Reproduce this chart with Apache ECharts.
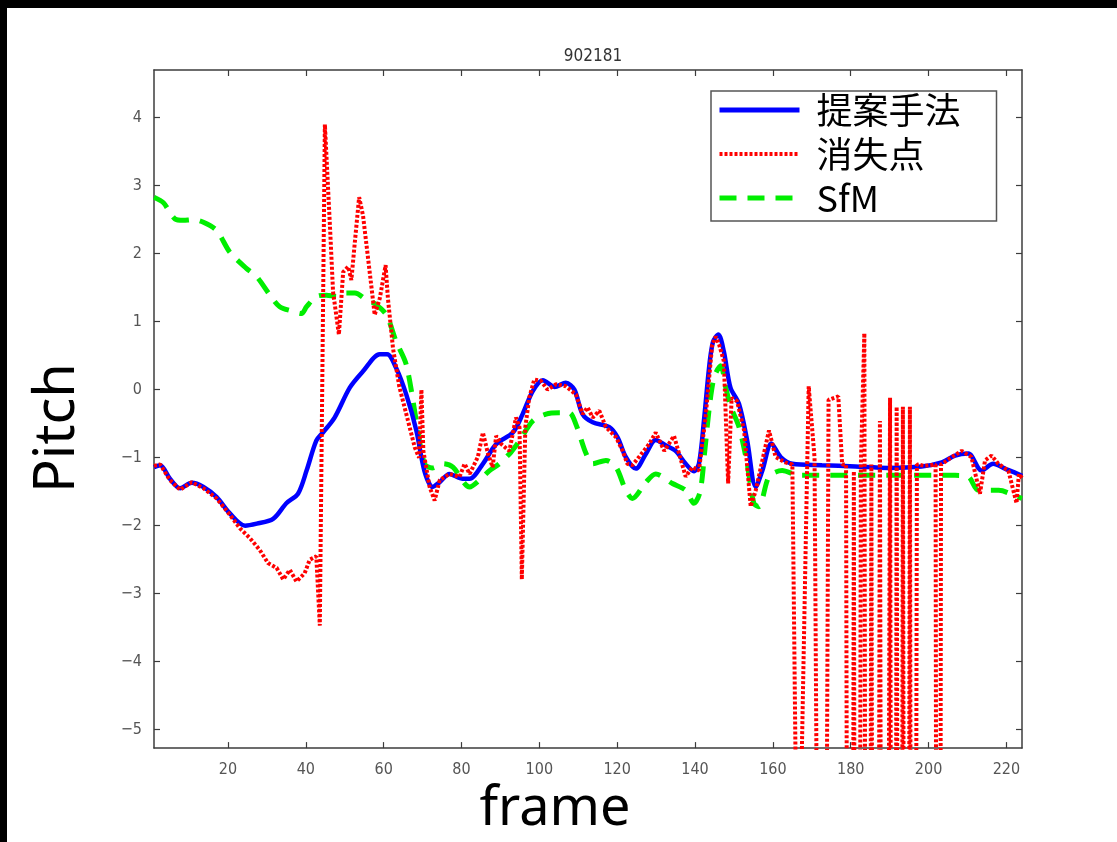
<!DOCTYPE html>
<html>
<head>
<meta charset="utf-8">
<title>902181</title>
<script src="https://cdn.jsdelivr.net/npm/echarts@6/dist/echarts.min.js"></script>
<style>
    html,body{margin:0;padding:0;background:#000;}
    #chart{position:absolute;left:7px;top:8px;width:1110px;height:834px;background:#fff;}
</style>
</head>
<body>
<div id="chart"></div>
<script>
// 読み取った値 (frame, pitch)
const proposedPts=[
    [1,-1.14],[2.6,-1.11],[5.1,-1.31],[7.7,-1.45],[10.7,-1.37],[13.7,-1.43],[17.1,-1.58],[20.5,-1.82],
    [24.4,-2.0],[27.4,-1.97],[31.6,-1.9],[35,-1.67],[38,-1.53],[40.2,-1.19],[42.7,-0.75],[44.4,-0.63],
    [47.4,-0.41],[51.3,0.03],[54.7,0.27],[59,0.52],[60.9,0.52],[63.2,0.32],[65.8,-0.07],[68.4,-0.6],
    [70.5,-1.2],[72.6,-1.43],[74.4,-1.36],[76.9,-1.24],[80.3,-1.31],[82.1,-1.31],[85.5,-1.09],[88.9,-0.8],
    [93.2,-0.63],[95.7,-0.36],[98.3,-0.02],[100.9,0.14],[103.9,0.04],[106.8,0.1],[109,0.0],[111.1,-0.36],
    [113.7,-0.48],[118,-0.55],[120.1,-0.7],[122.2,-0.99],[124.8,-1.16],[127.4,-0.94],[129.9,-0.74],
    [132.5,-0.82],[135,-0.9],[137.6,-1.09],[139.7,-1.2],[141,-1.09],[142.3,-0.45],[143.6,0.32],[144.6,0.7],
    [146,0.81],[147.4,0.56],[149.1,0.03],[151.3,-0.21],[153.4,-0.75],[155.6,-1.43],[157.3,-1.19],
    [159.6,-0.79],[162,-0.99],[165,-1.09],[172.6,-1.11],[181.2,-1.13],[189.7,-1.15],[198.2,-1.13],
    [203.4,-1.07],[206.8,-0.97],[210.2,-0.94],[213.6,-1.19],[216.6,-1.09],[219.6,-1.16],[223,-1.24],[224,-1.27]
];
const vanishPts=[
    [1,-1.12],[2.6,-1.1],[5.1,-1.33],[7.7,-1.47],[10.7,-1.36],[13.7,-1.45],[17.1,-1.6],[20.5,-1.84],
    [23.1,-2.04],[25.6,-2.18],[28.2,-2.36],[30.3,-2.55],[32.5,-2.62],[34.2,-2.79],[35.9,-2.65],[37.6,-2.82],
    [39.7,-2.7],[41,-2.5],[42.7,-2.45],[43.6,-3.47],[44.9,3.9],[46.2,2.41],[47,1.44],[48.5,0.81],
    [49.6,1.73],[50.9,1.81],[51.7,1.61],[52.6,2.17],[53.7,2.83],[54.7,2.56],[56,1.93],[57.7,1.1],
    [59,1.34],[60.5,1.83],[61.1,1.34],[62.4,0.61],[64,0.05],[66,-0.4],[68,-0.85],[69.1,-1.0],
    [69.7,0.0],[70.2,-0.9],[71.8,-1.43],[73.1,-1.63],[74.4,-1.33],[76.9,-1.24],[79.5,-1.28],[80.8,-1.09],
    [82.1,-1.24],[84.2,-0.99],[85.5,-0.63],[86.8,-0.94],[88,-1.14],[88.9,-0.68],[90.2,-0.8],[92.3,-0.9],
    [94,-0.41],[94.9,-0.55],[95.5,-2.79],[96.4,-0.55],[97.4,-0.12],[98.7,0.15],[100.4,0.13],[102.1,0.0],
    [104.3,0.08],[106.8,0.05],[109.4,-0.07],[111.1,-0.36],[112.4,-0.26],[113.7,-0.41],[115.4,-0.31],
    [117.1,-0.55],[119.7,-0.7],[121.4,-0.9],[122.6,-1.09],[123.9,-1.11],[125.6,-0.99],[128.2,-0.8],
    [129.9,-0.63],[132.1,-0.9],[134.6,-0.68],[136.4,-1.04],[137.6,-1.28],[139.3,-1.14],[141,-1.19],
    [142.7,-0.41],[144.4,0.66],[145.3,0.78],[146.2,0.66],[147.4,0.42],[148.5,-1.38],[149.4,-0.12],
    [150.8,-0.17],[152.6,-0.6],[154.3,-1.72],[155.6,-1.48],[157.3,-1.04],[159,-0.6],[160.7,-0.99],
    [163.2,-1.07],[165,-1.1],[166.4,-8.5],[169.2,0.05],[170.7,-1.0],[172.8,-20],[174.3,-0.15],[176.8,-0.1],
    [177.8,-1.1],[178.8,-1.1],[179.9,-30],[180.8,-1.2],[181.6,-30],[182.6,-1.1],[183.5,0.83],[184.3,-30],
    [185.3,-1.1],[186.3,-30],[187.5,-0.46],[188.5,-30],[190.1,-0.12],[191,-30],[191.8,-0.25],[192.6,-30],
    [193.4,-0.25],[194.3,-30],[195.2,-0.25],[196,-30],[197,-1.1],[199,-1.12],[201.8,-1.1],[202.5,-30],
    [203.2,-1.1],[206,-0.99],[208.5,-0.9],[211,-0.99],[213.2,-1.53],[214.5,-1.04],[216.2,-0.97],
    [217.9,-1.09],[220.5,-1.19],[222.6,-1.67],[223.2,-1.24],[224,-1.3]
];
const sfmPts=[
    [1,2.83],[3.4,2.75],[6.4,2.51],[8.5,2.49],[11,2.5],[13.7,2.46],[17.1,2.34],[20.5,2.02],[24.8,1.78],
    [27.4,1.66],[30.8,1.39],[33.3,1.22],[36.8,1.15],[38.9,1.12],[40.2,1.22],[42.7,1.37],[45.3,1.39],
    [47.9,1.37],[50.4,1.42],[52.6,1.42],[55.6,1.32],[58.1,1.25],[60.7,1.1],[63.2,0.71],[65.8,0.37],
    [68.4,-0.46],[70.5,-1.09],[72.5,-1.15],[75.3,-1.09],[77.8,-1.14],[82.1,-1.43],[84.6,-1.33],[87.2,-1.19],
    [89.7,-1.09],[92.7,-0.92],[94.9,-0.75],[98.3,-0.46],[101.7,-0.36],[105.1,-0.34],[107.7,-0.34],
    [109.4,-0.51],[112,-0.94],[113.7,-1.09],[117.1,-1.04],[119.7,-1.14],[122.2,-1.48],[123.9,-1.6],
    [127.4,-1.36],[129.9,-1.24],[134.2,-1.38],[137.6,-1.48],[139.7,-1.67],[141.3,-1.5],[142.5,-0.9],
    [143.8,-0.2],[145,0.2],[146.6,0.35],[147.9,0.03],[149.1,-0.24],[151.3,-0.55],[153.4,-1.09],
    [155.1,-1.67],[156.4,-1.72],[159,-1.28],[162.4,-1.19],[166.7,-1.26],[180,-1.26],[195,-1.26],
    [206.8,-1.26],[210.2,-1.28],[212.8,-1.48],[218,-1.48],[223,-1.58],[224,-1.6]
];
const seriesNames=['提案手法','消失点','SfM'];
const xTicks=[20,40,60,80,100,120,140,160,180,200,220];
const yTicks=[-5,-4,-3,-2,-1,0,1,2,3,4];

const tickFont='"Liberation Sans Narrow","DejaVu Sans Condensed",sans-serif';
const axisColor='#3c3c3c';

function axisBase(pos,ticks,showLabel){
    return {
        type:'value',
        position:pos,
        axisLine:{show:true,onZero:false,lineStyle:{color:axisColor,width:1.5}},
        axisTick:{show:true,inside:true,length:6,customValues:ticks,lineStyle:{color:axisColor,width:1.2}},
        axisLabel:{
            show:showLabel,
            customValues:ticks,
            color:'#555',
            fontSize:16,
            fontFamily:tickFont,
            formatter:function(v){return v<0?'\u2212'+Math.abs(v):String(v);}
        },
        splitLine:{show:false}
    };
}

const chart=echarts.init(document.querySelector('#chart'));
const xBottom=Object.assign(axisBase('bottom',xTicks,true),{
    min:1,max:224,
    name:'frame',nameLocation:'middle',nameGap:34,
    nameTextStyle:{fontSize:54,color:'#000',fontFamily:'"Noto Sans",sans-serif',padding:[0,66,0,0]}
});
xBottom.axisLabel.margin=14;
const xTop=Object.assign(axisBase('top',xTicks,false),{min:1,max:224});
const yLeft=Object.assign(axisBase('left',yTicks,true),{
    min:-5.27,max:4.7,
    name:'Pitch',nameLocation:'middle',nameGap:68,
    nameTextStyle:{fontSize:56,color:'#000',fontFamily:'"Noto Sans",sans-serif',padding:[0,38,0,0]}
});
yLeft.axisLabel.margin=12;
const yRight=Object.assign(axisBase('right',yTicks,false),{min:-5.27,max:4.7});

chart.setOption({
    animation:false,
    backgroundColor:'#fff',
    title:{
        text:'902181',
        left:581,top:35,textAlign:'center',
        textStyle:{fontSize:17,fontWeight:'normal',color:'#333',fontFamily:tickFont}
    },
    grid:{left:147,top:62,width:868,height:683,containLabel:false},
    legend:{
        data:[
            {name:seriesNames[0],lineStyle:{width:5}},
            {name:seriesNames[1],lineStyle:{width:4}},
            {name:seriesNames[2],lineStyle:{width:5}}
        ],
        orient:'vertical',
        left:704,top:83,
        padding:[1,36,5,6],
        itemGap:8,
        itemWidth:80,
        itemHeight:20,
        itemStyle:{opacity:0},
        backgroundColor:'#fff',
        borderColor:'#555',
        borderWidth:1.5,
        borderRadius:0,
        textStyle:{fontSize:36,lineHeight:36,color:'#000',fontFamily:'"Noto Sans CJK JP",sans-serif',padding:[0,0,0,12]}
    },
    xAxis:[xBottom,xTop],
    yAxis:[yLeft,yRight],
    series:[
        {
            name:seriesNames[0],type:'line',data:proposedPts,
            symbol:'none',smooth:0.3,z:3,
            lineStyle:{color:'#0000ff',width:4.5},
            itemStyle:{color:'#0000ff'}
        },
        {
            name:seriesNames[1],type:'line',data:vanishPts,
            symbol:'none',z:4,
            lineStyle:{color:'#ff0000',width:4,type:[3,2]},
            itemStyle:{color:'#ff0000'}
        },
        {
            name:seriesNames[2],type:'line',data:sfmPts,
            symbol:'none',smooth:0.3,z:2,
            lineStyle:{color:'#00ee00',width:5,type:[17,11]},
            itemStyle:{color:'#00ee00'}
        }
    ]
});
</script>
</body>
</html>
